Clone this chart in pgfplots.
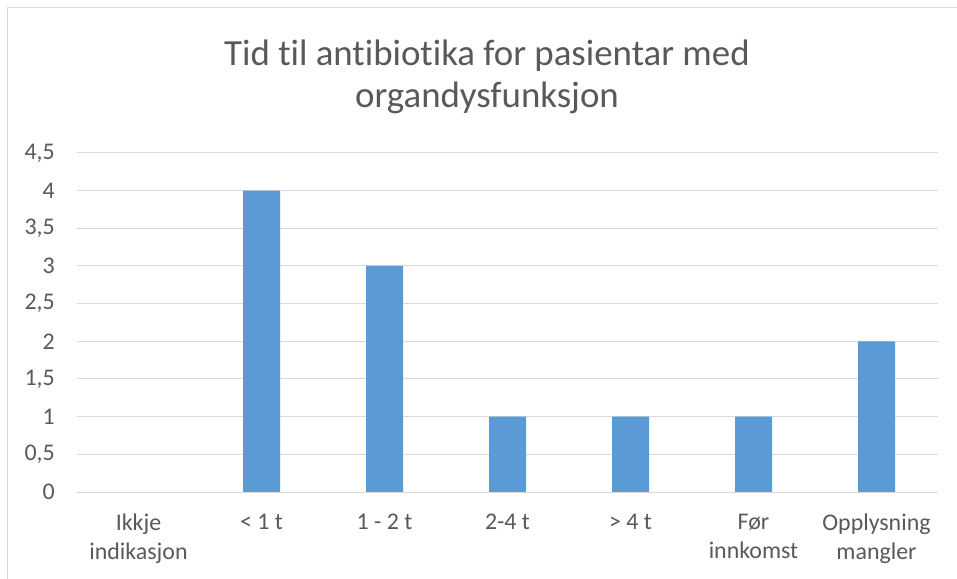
\documentclass[border=0pt]{standalone}
\usepackage{pgfplots}
\pgfplotsset{compat=1.18}
\usepackage{fontspec}
\setmainfont{Carlito}[Ligatures=NoCommon]

\definecolor{barblue}{HTML}{5B9BD5}
\definecolor{gridgray}{HTML}{D9D9D9}
\definecolor{textgray}{HTML}{595959}

\begin{document}
\begin{tikzpicture}
\useasboundingbox (0,0) rectangle (957bp,579bp);
\fill[white] (0,0) rectangle (957bp,579bp);
% chart border (only left and top visible in the crop)
\draw[gridgray, line width=1bp] (7bp,0) -- (7bp,571bp) -- (957bp,571bp);

\node[textgray, align=center, font=\fontsize{37}{43}\selectfont, anchor=base]
  at (487bp,471bp) {Tid til antibiotika for pasientar med\\organdysfunksjon};

\begin{axis}[
    at={(77bp,87bp)}, anchor=south west,
    scale only axis,
    width=861bp, height=339bp,
    xmin=-0.5, xmax=6.5,
    ymin=0, ymax=4.5,
    ytick={0,0.5,...,4.5},
    xtick=data,
    xticklabels={{Ikkje\\indikasjon},{< 1 t},{1 - 2 t},{2-4 t},{> 4 t},{Før\\innkomst},{Opplysning\\mangler}},
    axis line style={draw=none},
    major tick length=0pt,
    ymajorgrids,
    grid style={gridgray, line width=1bp},
    /pgf/number format/.cd, use comma, fixed, assume math mode=true,
    /pgfplots/.cd,
    yticklabel style={textgray, font=\fontsize{24}{29}\selectfont, inner sep=0pt, anchor=east, xshift=-22bp},
    xticklabel style={textgray, font=\fontsize{24}{29}\selectfont, align=center, inner sep=0pt, anchor=north, yshift=-22bp},
]
\addplot[ybar, bar width=37bp, fill=barblue, draw=none] coordinates {
(0,0) (1,4) (2,3) (3,1) (4,1) (5,1) (6,2)
};
\end{axis}
\end{tikzpicture}
\end{document}
